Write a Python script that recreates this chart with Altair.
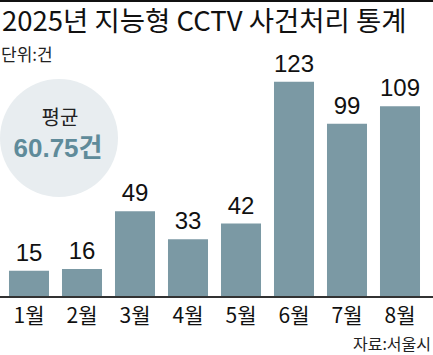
import altair as alt
import pandas as pd

months = ["1월", "2월", "3월", "4월", "5월", "6월", "7월", "8월"]
values = [15, 16, 49, 33, 42, 123, 99, 109]
title_text = "2025년 지능형 CCTV 사건처리 통계"
unit_text = "단위:건"
avg_label = "평균"
avg_value = "60.75건"
source_text = "자료:서울시"

df = pd.DataFrame({"month": months, "value": values})

KR = "Noto Sans CJK KR"
NUM = "'Liberation Sans', 'Noto Sans CJK KR', sans-serif"
W, H = 433, 297

xs = alt.Scale(domain=months, range=[2.5, 426.5], paddingInner=0.245, paddingOuter=0.1225)
ys = alt.Scale(domain=[0, 123], range=[297, 297 - 123 * 1.75], nice=False, zero=True)

base = alt.Chart(df)

bars = base.mark_bar(color="#7b99a4").encode(
    x=alt.X("month:N", scale=xs, sort=months,
            axis=alt.Axis(title=None, domain=False, ticks=False, labelAngle=0,
                          labelFont=KR, labelFontSize=21, labelColor="#111",
                          labelPadding=8)),
    y=alt.Y("value:Q", scale=ys, axis=None),
)

labels = base.mark_text(font=NUM, fontSize=24, color="#111", baseline="alphabetic", dy=-10).encode(
    x=alt.X("month:N", scale=xs, sort=months),
    y=alt.Y("value:Q", scale=ys),
    text="value:Q",
)

baseline = base.mark_rule(color="#333", strokeWidth=1).encode(
    x=alt.value(0), x2=alt.value(W), y=alt.datum(0)
)

one = pd.DataFrame({"a": [0]})
ann = alt.Chart(one)

topline = ann.mark_rule(color="#111", strokeWidth=2).encode(
    x=alt.value(0), x2=alt.value(W), y=alt.value(1)
)
title = ann.mark_text(font=KR, fontSize=27.5, color="#111", align="left", baseline="middle").encode(
    x=alt.value(2), y=alt.value(23), text=alt.value(title_text)
)
unit = ann.mark_text(font=KR, fontSize=17, color="#222", align="left", baseline="middle").encode(
    x=alt.value(1), y=alt.value(56), text=alt.value(unit_text)
)
circle = ann.mark_point(shape="circle", filled=True, color="#e8edf0", opacity=1, size=118 * 118).encode(
    x=alt.value(59), y=alt.value(138)
)
avg1 = ann.mark_text(font=KR, fontSize=20, color="#222", align="center", baseline="middle").encode(
    x=alt.value(60), y=alt.value(119), text=alt.value(avg_label)
)
avg2 = ann.mark_text(font=NUM, fontSize=26, fontWeight="bold", color="#5f8b9a", align="center", baseline="middle").encode(
    x=alt.value(58), y=alt.value(149), text=alt.value(avg_value)
)
source = ann.mark_text(font=KR, fontSize=16, color="#222", align="right", baseline="middle").encode(
    x=alt.value(431), y=alt.value(345), text=alt.value(source_text)
)

chart = alt.layer(topline, title, unit, circle, avg1, avg2, bars, labels, baseline, source).properties(
    width=W, height=H,
    padding={"left": 0, "top": 0, "right": 0, "bottom": 58},
    autosize=alt.AutoSizeParams(type="none"),
    background="white",
).configure_view(stroke=None)

chart.save("out.html", embed_options={"renderer": "svg", "actions": False})
